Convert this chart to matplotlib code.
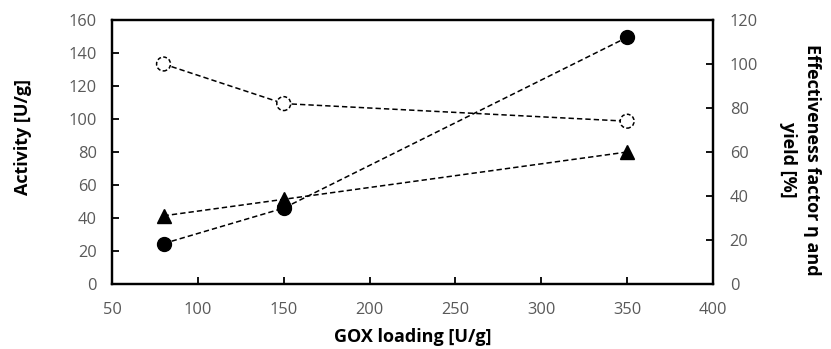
import matplotlib.pyplot as plt

plt.rcParams['font.family'] = ['Open Sans', 'DejaVu Sans']

# GOX 负载量与活性、有效因子、产率
gox_loading = [80, 150, 350]
activity = [24.5, 46, 149.5]          # 左轴 U/g
effectiveness = [100, 82, 74]         # 右轴 %
yield_pct = [31, 38.5, 60]            # 右轴 %

fig = plt.figure(figsize=(8.31, 3.49), dpi=100)
ax = fig.add_axes([0.1348, 0.1862, 0.7232, 0.7565])
ax2 = ax.twinx()

line_kw = dict(color='black', linestyle=(0, (3.5, 2)), linewidth=1.1)

# 活性：实心圆
ax.plot(gox_loading, activity, marker='o', markersize=10,
        markerfacecolor='black', markeredgecolor='black', zorder=3, **line_kw)
# 有效因子：空心圆，边框为虚线
ax2.plot(gox_loading, effectiveness, zorder=2, **line_kw)
ax2.scatter(gox_loading, effectiveness, s=100, marker='o', facecolors='white',
            edgecolors='black', linewidths=1.1, linestyles=(0, (2.5, 1.5)),
            zorder=3)
# 产率：三角
ax2.plot(gox_loading, yield_pct, marker='^', markersize=10,
         markerfacecolor='black', markeredgecolor='black', zorder=3, **line_kw)

ax.set_xlim(50, 400)
ax.set_ylim(0, 160)
ax2.set_ylim(0, 120)
ax.set_xticks(range(50, 401, 50))
ax.set_yticks(range(0, 161, 20))
ax2.set_yticks(range(0, 121, 20))

for a in (ax, ax2):
    for s in a.spines.values():
        s.set_linewidth(1.6)
        s.set_color('black')
    a.tick_params(direction='in', length=5, width=1.3, labelsize=11.8,
                  labelcolor='#595959')
ax.tick_params(axis='x', pad=13)
ax.tick_params(axis='y', pad=11)
ax2.tick_params(axis='y', pad=12)

ax.set_xlabel('GOX loading [U/g]', fontsize=13, fontweight='bold', labelpad=7)
ax.set_ylabel('Activity [U/g]', fontsize=13, fontweight='bold', labelpad=26)
ax2.set_ylabel('Effectiveness factor η and\nyield [%]', fontsize=13,
               fontweight='bold', rotation=270, labelpad=45,
               linespacing=1.4)
# 轴标题略偏离中心
ax.yaxis.label.set_y(0.557)
ax2.yaxis.label.set_y(0.47)

fig.savefig('out.png', dpi=100)
